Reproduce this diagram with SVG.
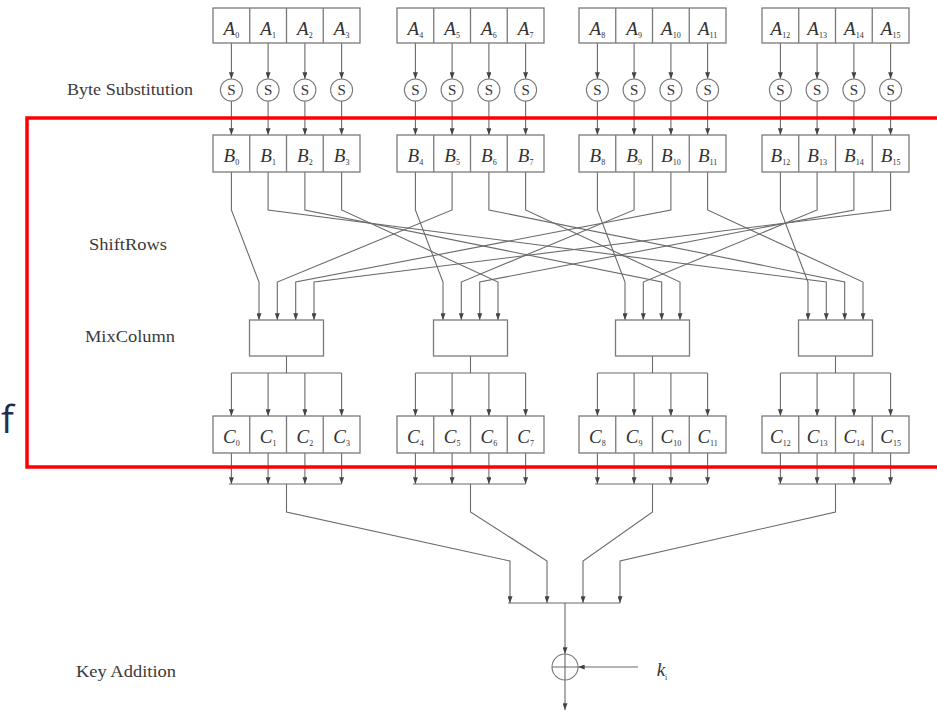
<svg xmlns="http://www.w3.org/2000/svg" width="937" height="713" viewBox="0 0 937 713">
<defs>
<marker id="ah" viewBox="0 0 8 6" refX="8" refY="3" markerWidth="7" markerHeight="5" orient="auto" markerUnits="userSpaceOnUse"><path d="M0,0 L8,3 L0,6 z" fill="#444"/></marker>
<style>
.box{fill:#fff;stroke:#7a7a7a;stroke-width:1.3}
.w{fill:none;stroke:#6a6a6a;stroke-width:1.1}
.a{fill:none;stroke:#6a6a6a;stroke-width:1.1;marker-end:url(#ah)}
.cell{font-family:"Liberation Serif",serif;font-style:italic;font-size:19px;fill:#333;text-anchor:middle}
.sub{font-style:normal;font-size:8px}
.lbl{font-family:"Liberation Serif",serif;font-size:17px;fill:#3a3a3a}
.s{font-family:"Liberation Serif",serif;font-size:15px;fill:#333;text-anchor:middle}
.circ{fill:#fff;stroke:#7a7a7a;stroke-width:1.1}
</style>
</defs>
<rect width="937" height="713" fill="#fff"/>

<g id="connectors">
<!-- A to S -->
<line class="a" x1="231.4" y1="43" x2="231.4" y2="79"/><line class="a" x1="268.1" y1="43" x2="268.1" y2="79"/><line class="a" x1="304.9" y1="43" x2="304.9" y2="79"/><line class="a" x1="341.6" y1="43" x2="341.6" y2="79"/>
<line class="a" x1="415.4" y1="43" x2="415.4" y2="79"/><line class="a" x1="452.1" y1="43" x2="452.1" y2="79"/><line class="a" x1="488.9" y1="43" x2="488.9" y2="79"/><line class="a" x1="525.6" y1="43" x2="525.6" y2="79"/>
<line class="a" x1="597.4" y1="43" x2="597.4" y2="79"/><line class="a" x1="634.1" y1="43" x2="634.1" y2="79"/><line class="a" x1="670.9" y1="43" x2="670.9" y2="79"/><line class="a" x1="707.6" y1="43" x2="707.6" y2="79"/>
<line class="a" x1="780.4" y1="43" x2="780.4" y2="79"/><line class="a" x1="817.1" y1="43" x2="817.1" y2="79"/><line class="a" x1="853.9" y1="43" x2="853.9" y2="79"/><line class="a" x1="890.6" y1="43" x2="890.6" y2="79"/>
<!-- S to B -->
<line class="a" x1="231.4" y1="101" x2="231.4" y2="135"/><line class="a" x1="268.1" y1="101" x2="268.1" y2="135"/><line class="a" x1="304.9" y1="101" x2="304.9" y2="135"/><line class="a" x1="341.6" y1="101" x2="341.6" y2="135"/>
<line class="a" x1="415.4" y1="101" x2="415.4" y2="135"/><line class="a" x1="452.1" y1="101" x2="452.1" y2="135"/><line class="a" x1="488.9" y1="101" x2="488.9" y2="135"/><line class="a" x1="525.6" y1="101" x2="525.6" y2="135"/>
<line class="a" x1="597.4" y1="101" x2="597.4" y2="135"/><line class="a" x1="634.1" y1="101" x2="634.1" y2="135"/><line class="a" x1="670.9" y1="101" x2="670.9" y2="135"/><line class="a" x1="707.6" y1="101" x2="707.6" y2="135"/>
<line class="a" x1="780.4" y1="101" x2="780.4" y2="135"/><line class="a" x1="817.1" y1="101" x2="817.1" y2="135"/><line class="a" x1="853.9" y1="101" x2="853.9" y2="135"/><line class="a" x1="890.6" y1="101" x2="890.6" y2="135"/>
<!-- ShiftRows wiring -->
<path class="a" d="M231.4,172V210L259,282V320"/>
<path class="a" d="M268.1,172V210L826.3,282V320"/>
<path class="a" d="M304.9,172V210L661.7,282V320"/>
<path class="a" d="M341.6,172V210L498,282V320"/>
<path class="a" d="M415.4,172V210L443,282V320"/>
<path class="a" d="M452.1,172V210L277.3,282V320"/>
<path class="a" d="M488.9,172V210L844.7,282V320"/>
<path class="a" d="M525.6,172V210L680,282V320"/>
<path class="a" d="M597.4,172V210L625,282V320"/>
<path class="a" d="M634.1,172V210L461.3,282V320"/>
<path class="a" d="M670.9,172V210L295.7,282V320"/>
<path class="a" d="M707.6,172V210L863,282V320"/>
<path class="a" d="M780.4,172V210L808,282V320"/>
<path class="a" d="M817.1,172V210L643.3,282V320"/>
<path class="a" d="M853.9,172V210L479.7,282V320"/>
<path class="a" d="M890.6,172V210L314,282V320"/>
<!-- MixColumn to C -->
<path class="w" d="M286.5,356V373M231.4,373H341.6M470.5,356V373M415.4,373H525.6M652.5,356V373M597.4,373H707.6M835.5,356V373M780.4,373H890.6"/>
<line class="a" x1="231.4" y1="373" x2="231.4" y2="416"/><line class="a" x1="268.1" y1="373" x2="268.1" y2="416"/><line class="a" x1="304.9" y1="373" x2="304.9" y2="416"/><line class="a" x1="341.6" y1="373" x2="341.6" y2="416"/>
<line class="a" x1="415.4" y1="373" x2="415.4" y2="416"/><line class="a" x1="452.1" y1="373" x2="452.1" y2="416"/><line class="a" x1="488.9" y1="373" x2="488.9" y2="416"/><line class="a" x1="525.6" y1="373" x2="525.6" y2="416"/>
<line class="a" x1="597.4" y1="373" x2="597.4" y2="416"/><line class="a" x1="634.1" y1="373" x2="634.1" y2="416"/><line class="a" x1="670.9" y1="373" x2="670.9" y2="416"/><line class="a" x1="707.6" y1="373" x2="707.6" y2="416"/>
<line class="a" x1="780.4" y1="373" x2="780.4" y2="416"/><line class="a" x1="817.1" y1="373" x2="817.1" y2="416"/><line class="a" x1="853.9" y1="373" x2="853.9" y2="416"/><line class="a" x1="890.6" y1="373" x2="890.6" y2="416"/>
<!-- C to bars -->
<line class="a" x1="231.4" y1="453" x2="231.4" y2="484"/><line class="a" x1="268.1" y1="453" x2="268.1" y2="484"/><line class="a" x1="304.9" y1="453" x2="304.9" y2="484"/><line class="a" x1="341.6" y1="453" x2="341.6" y2="484"/>
<line class="a" x1="415.4" y1="453" x2="415.4" y2="484"/><line class="a" x1="452.1" y1="453" x2="452.1" y2="484"/><line class="a" x1="488.9" y1="453" x2="488.9" y2="484"/><line class="a" x1="525.6" y1="453" x2="525.6" y2="484"/>
<line class="a" x1="597.4" y1="453" x2="597.4" y2="484"/><line class="a" x1="634.1" y1="453" x2="634.1" y2="484"/><line class="a" x1="670.9" y1="453" x2="670.9" y2="484"/><line class="a" x1="707.6" y1="453" x2="707.6" y2="484"/>
<line class="a" x1="780.4" y1="453" x2="780.4" y2="484"/><line class="a" x1="817.1" y1="453" x2="817.1" y2="484"/><line class="a" x1="853.9" y1="453" x2="853.9" y2="484"/><line class="a" x1="890.6" y1="453" x2="890.6" y2="484"/>
<path class="w" d="M229,484H341.6M413,484H525.6M595,484H707.6M778,484H890.6"/>
<!-- bars to bottom -->
<path class="a" d="M286.5,484V512L510,561V603"/>
<path class="a" d="M470.5,484V512L547,561V603"/>
<path class="a" d="M652.5,484V512L583,561V603"/>
<path class="a" d="M835.5,484V512L620,561V603"/>
<path class="w" d="M508,603H620"/>
<line class="a" x1="565" y1="603" x2="565" y2="654"/>
<line class="a" x1="565" y1="680" x2="565" y2="710"/>
<line class="a" x1="638" y1="667" x2="578" y2="667"/>
</g>

<g id="A-row">
<rect class="box" x="213" y="8" width="147" height="35"/><path class="box" d="M249.75,8V43M286.5,8V43M323.25,8V43"/>
<rect class="box" x="397" y="8" width="147" height="35"/><path class="box" d="M433.75,8V43M470.5,8V43M507.25,8V43"/>
<rect class="box" x="579" y="8" width="147" height="35"/><path class="box" d="M615.75,8V43M652.5,8V43M689.25,8V43"/>
<rect class="box" x="762" y="8" width="147" height="35"/><path class="box" d="M798.75,8V43M835.5,8V43M872.25,8V43"/>
<text class="cell" x="231.4" y="35">A<tspan class="sub" dy="3">0</tspan></text>
<text class="cell" x="268.1" y="35">A<tspan class="sub" dy="3">1</tspan></text>
<text class="cell" x="304.9" y="35">A<tspan class="sub" dy="3">2</tspan></text>
<text class="cell" x="341.6" y="35">A<tspan class="sub" dy="3">3</tspan></text>
<text class="cell" x="415.4" y="35">A<tspan class="sub" dy="3">4</tspan></text>
<text class="cell" x="452.1" y="35">A<tspan class="sub" dy="3">5</tspan></text>
<text class="cell" x="488.9" y="35">A<tspan class="sub" dy="3">6</tspan></text>
<text class="cell" x="525.6" y="35">A<tspan class="sub" dy="3">7</tspan></text>
<text class="cell" x="597.4" y="35">A<tspan class="sub" dy="3">8</tspan></text>
<text class="cell" x="634.1" y="35">A<tspan class="sub" dy="3">9</tspan></text>
<text class="cell" x="670.9" y="35">A<tspan class="sub" dy="3">10</tspan></text>
<text class="cell" x="707.6" y="35">A<tspan class="sub" dy="3">11</tspan></text>
<text class="cell" x="780.4" y="35">A<tspan class="sub" dy="3">12</tspan></text>
<text class="cell" x="817.1" y="35">A<tspan class="sub" dy="3">13</tspan></text>
<text class="cell" x="853.9" y="35">A<tspan class="sub" dy="3">14</tspan></text>
<text class="cell" x="890.6" y="35">A<tspan class="sub" dy="3">15</tspan></text>
</g>

<g id="S-boxes">
<circle class="circ" cx="231.4" cy="90" r="11"/><circle class="circ" cx="268.1" cy="90" r="11"/><circle class="circ" cx="304.9" cy="90" r="11"/><circle class="circ" cx="341.6" cy="90" r="11"/>
<circle class="circ" cx="415.4" cy="90" r="11"/><circle class="circ" cx="452.1" cy="90" r="11"/><circle class="circ" cx="488.9" cy="90" r="11"/><circle class="circ" cx="525.6" cy="90" r="11"/>
<circle class="circ" cx="597.4" cy="90" r="11"/><circle class="circ" cx="634.1" cy="90" r="11"/><circle class="circ" cx="670.9" cy="90" r="11"/><circle class="circ" cx="707.6" cy="90" r="11"/>
<circle class="circ" cx="780.4" cy="90" r="11"/><circle class="circ" cx="817.1" cy="90" r="11"/><circle class="circ" cx="853.9" cy="90" r="11"/><circle class="circ" cx="890.6" cy="90" r="11"/>
<text class="s" x="231.4" y="95">S</text><text class="s" x="268.1" y="95">S</text><text class="s" x="304.9" y="95">S</text><text class="s" x="341.6" y="95">S</text>
<text class="s" x="415.4" y="95">S</text><text class="s" x="452.1" y="95">S</text><text class="s" x="488.9" y="95">S</text><text class="s" x="525.6" y="95">S</text>
<text class="s" x="597.4" y="95">S</text><text class="s" x="634.1" y="95">S</text><text class="s" x="670.9" y="95">S</text><text class="s" x="707.6" y="95">S</text>
<text class="s" x="780.4" y="95">S</text><text class="s" x="817.1" y="95">S</text><text class="s" x="853.9" y="95">S</text><text class="s" x="890.6" y="95">S</text>
</g>

<g id="B-row">
<rect class="box" x="213" y="135" width="147" height="37"/><path class="box" d="M249.75,135V172M286.5,135V172M323.25,135V172"/>
<rect class="box" x="397" y="135" width="147" height="37"/><path class="box" d="M433.75,135V172M470.5,135V172M507.25,135V172"/>
<rect class="box" x="579" y="135" width="147" height="37"/><path class="box" d="M615.75,135V172M652.5,135V172M689.25,135V172"/>
<rect class="box" x="762" y="135" width="147" height="37"/><path class="box" d="M798.75,135V172M835.5,135V172M872.25,135V172"/>
<text class="cell" x="231.4" y="162">B<tspan class="sub" dy="3">0</tspan></text>
<text class="cell" x="268.1" y="162">B<tspan class="sub" dy="3">1</tspan></text>
<text class="cell" x="304.9" y="162">B<tspan class="sub" dy="3">2</tspan></text>
<text class="cell" x="341.6" y="162">B<tspan class="sub" dy="3">3</tspan></text>
<text class="cell" x="415.4" y="162">B<tspan class="sub" dy="3">4</tspan></text>
<text class="cell" x="452.1" y="162">B<tspan class="sub" dy="3">5</tspan></text>
<text class="cell" x="488.9" y="162">B<tspan class="sub" dy="3">6</tspan></text>
<text class="cell" x="525.6" y="162">B<tspan class="sub" dy="3">7</tspan></text>
<text class="cell" x="597.4" y="162">B<tspan class="sub" dy="3">8</tspan></text>
<text class="cell" x="634.1" y="162">B<tspan class="sub" dy="3">9</tspan></text>
<text class="cell" x="670.9" y="162">B<tspan class="sub" dy="3">10</tspan></text>
<text class="cell" x="707.6" y="162">B<tspan class="sub" dy="3">11</tspan></text>
<text class="cell" x="780.4" y="162">B<tspan class="sub" dy="3">12</tspan></text>
<text class="cell" x="817.1" y="162">B<tspan class="sub" dy="3">13</tspan></text>
<text class="cell" x="853.9" y="162">B<tspan class="sub" dy="3">14</tspan></text>
<text class="cell" x="890.6" y="162">B<tspan class="sub" dy="3">15</tspan></text>
</g>

<g id="mixcolumn">
<rect class="box" x="249.5" y="320" width="74" height="36"/>
<rect class="box" x="433.5" y="320" width="74" height="36"/>
<rect class="box" x="615.5" y="320" width="74" height="36"/>
<rect class="box" x="798.5" y="320" width="74" height="36"/>
</g>

<g id="C-row">
<rect class="box" x="213" y="416" width="147" height="37"/><path class="box" d="M249.75,416V453M286.5,416V453M323.25,416V453"/>
<rect class="box" x="397" y="416" width="147" height="37"/><path class="box" d="M433.75,416V453M470.5,416V453M507.25,416V453"/>
<rect class="box" x="579" y="416" width="147" height="37"/><path class="box" d="M615.75,416V453M652.5,416V453M689.25,416V453"/>
<rect class="box" x="762" y="416" width="147" height="37"/><path class="box" d="M798.75,416V453M835.5,416V453M872.25,416V453"/>
<text class="cell" x="231.4" y="443">C<tspan class="sub" dy="3">0</tspan></text>
<text class="cell" x="268.1" y="443">C<tspan class="sub" dy="3">1</tspan></text>
<text class="cell" x="304.9" y="443">C<tspan class="sub" dy="3">2</tspan></text>
<text class="cell" x="341.6" y="443">C<tspan class="sub" dy="3">3</tspan></text>
<text class="cell" x="415.4" y="443">C<tspan class="sub" dy="3">4</tspan></text>
<text class="cell" x="452.1" y="443">C<tspan class="sub" dy="3">5</tspan></text>
<text class="cell" x="488.9" y="443">C<tspan class="sub" dy="3">6</tspan></text>
<text class="cell" x="525.6" y="443">C<tspan class="sub" dy="3">7</tspan></text>
<text class="cell" x="597.4" y="443">C<tspan class="sub" dy="3">8</tspan></text>
<text class="cell" x="634.1" y="443">C<tspan class="sub" dy="3">9</tspan></text>
<text class="cell" x="670.9" y="443">C<tspan class="sub" dy="3">10</tspan></text>
<text class="cell" x="707.6" y="443">C<tspan class="sub" dy="3">11</tspan></text>
<text class="cell" x="780.4" y="443">C<tspan class="sub" dy="3">12</tspan></text>
<text class="cell" x="817.1" y="443">C<tspan class="sub" dy="3">13</tspan></text>
<text class="cell" x="853.9" y="443">C<tspan class="sub" dy="3">14</tspan></text>
<text class="cell" x="890.6" y="443">C<tspan class="sub" dy="3">15</tspan></text>
</g>

<g id="xor">
<circle class="circ" cx="565" cy="667" r="13"/>
<path class="w" d="M552,667H578M565,654V680"/>
<text class="cell" x="662" y="676">k<tspan class="sub" dy="4">i</tspan></text>
</g>

<g id="labels">
<text class="lbl" x="67" y="95" textLength="126" lengthAdjust="spacingAndGlyphs">Byte Substitution</text>
<text class="lbl" x="89" y="250" textLength="78" lengthAdjust="spacingAndGlyphs">ShiftRows</text>
<text class="lbl" x="85" y="342" textLength="90" lengthAdjust="spacingAndGlyphs">MixColumn</text>
<text class="lbl" x="76" y="677" textLength="100" lengthAdjust="spacingAndGlyphs">Key Addition</text>
</g>

<g id="highlight">
<rect x="27" y="118" width="930" height="349" fill="none" stroke="#ff0000" stroke-width="3.5"/>
<text x="1" y="433" font-family="'Open Sans','Liberation Sans',sans-serif" font-size="38" fill="#1f2d4f">f</text>
</g>
</svg>
